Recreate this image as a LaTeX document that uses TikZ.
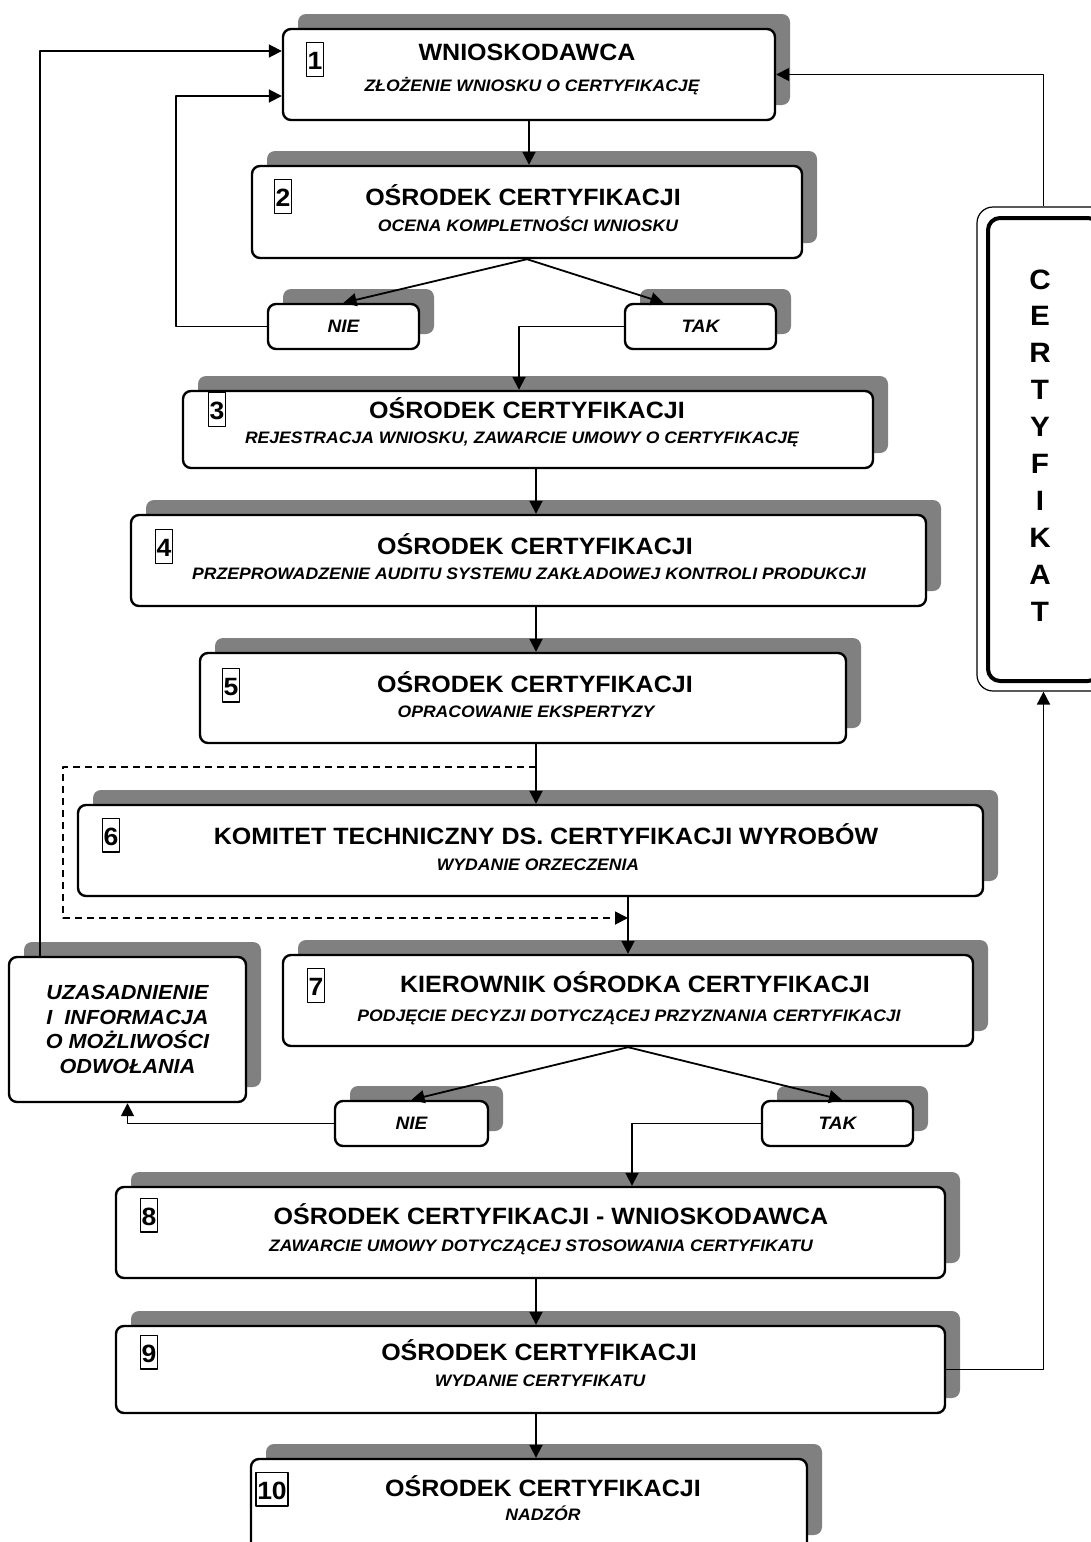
\documentclass[tikz,border=0pt]{standalone}
\usepackage{fontspec}
\setmainfont{Liberation Sans}[FakeStretch=1.06]
\usetikzlibrary{arrows.meta,shadows}
\begin{document}
\begin{tikzpicture}[x=0.5pt, y=-0.5pt, line join=round, >={Triangle[length=6.5pt,width=6.5pt]},
	box/.style={draw, line width=1.2pt, rounded corners=4pt, fill=white, inner sep=0pt, drop shadow={shadow xshift=7.5pt, shadow yshift=7.5pt, opacity=1, fill=black!50}},
	ttl/.style={font=\fontsize{11.8}{14}\selectfont\bfseries, inner sep=0pt, text height=8.45pt, text depth=0pt},
	sub/.style={font=\fontsize{8.3}{10}\selectfont\bfseries\itshape, inner sep=0pt, text height=5.95pt, text depth=0pt},
	num/.style={draw, line width=0.7pt, font=\fontsize{12.5}{14}\selectfont\bfseries, inner xsep=0.6pt, inner ysep=1.4pt, text height=12pt, text depth=2pt},
	ans/.style={box, minimum width=75.5pt, minimum height=22.5pt, font=\fontsize{9}{11}\selectfont\bfseries\itshape},
	conn/.style={line width=0.9pt}]
	\useasboundingbox (0,0) rectangle (1091,1542);
	\clip (0,0) rectangle (1091,1542);
	\node[box, minimum width=246pt, minimum height=45.5pt] (b1) at (529,74.5) {};
	\node[box, minimum width=275pt, minimum height=46pt] (b2) at (527,212) {};
	\node[ans] (nie1) at (343.5,326.5) {NIE};
	\node[ans] (tak1) at (700.5,326.5) {TAK};
	\node[box, minimum width=345pt, minimum height=38.5pt] (b3) at (528,429.5) {};
	\node[box, minimum width=397.5pt, minimum height=45.5pt] (b4) at (528.5,560.5) {};
	\node[box, minimum width=323pt, minimum height=45pt] (b5) at (523,698) {};
	\node[box, minimum width=452.5pt, minimum height=45.5pt] (b6) at (530.5,850.5) {};
	\node[box, minimum width=345pt, minimum height=45.5pt] (b7) at (628,1000.5) {};
	\node[box, minimum width=118.5pt, minimum height=72.5pt, align=center, font=\fontsize{10.2}{12.25}\selectfont\bfseries\itshape] (uzas) at (127.5,1029.5) {UZASADNIENIE\\I\ \ INFORMACJA\\O MOŻLIWOŚCI\\ODWOŁANIA};
	\node[ans, minimum width=76.5pt] (nie2) at (411.5,1123.5) {NIE};
	\node[ans] (tak2) at (837.5,1123.5) {TAK};
	\node[box, minimum width=414.5pt, minimum height=45.5pt] (b8) at (530.5,1232.5) {};
	\node[box, minimum width=414.5pt, minimum height=43.5pt] (b9) at (530.5,1369.5) {};
	\node[box, minimum width=278pt, minimum height=45.5pt] (b10) at (529,1504.5) {};
	\node[draw, line width=0.6pt, rounded corners=8pt, minimum width=66.5pt, minimum height=242pt] (cert) at (1043.5,449) {};
	\node[draw, line width=2pt, rounded corners=6pt, minimum width=56pt, minimum height=231.5pt] (certin) at (1044,449.5) {};
	\foreach \l [count=\i from 0] in {C,E,R,T,Y,F,I,K,A,T}
		\node[font=\fontsize{14}{16}\selectfont\bfseries, inner sep=0pt, text height=10pt, text depth=0pt] (l\i) at (1040,{279+36.9*\i}) {\l};
	\node[num] (nr1) at (315,59.5) {1};
	\node[num] (nr2) at (283,196.5) {2};
	\node[num] (nr3) at (217,409.5) {3};
	\node[num] (nr4) at (164,546.5) {4};
	\node[num] (nr5) at (231,685) {5};
	\node[num] (nr6) at (111,835) {6};
	\node[num] (nr7) at (316,985.5) {7};
	\node[num] (nr8) at (149,1215) {8};
	\node[num] (nr9) at (149,1352) {9};
	\node[num] (nr10) at (272,1489) {10};
	\node[ttl] (tit1) at (527,52) {WNIOSKODAWCA};
	\node[sub] (sub1) at (532,86) {ZŁOŻENIE WNIOSKU O CERTYFIKACJĘ};
	\node[ttl] (tit2) at (523,197) {OŚRODEK CERTYFIKACJI};
	\node[sub] (sub2) at (528,225.5) {OCENA KOMPLETNOŚCI WNIOSKU};
	\node[ttl] (tit3) at (527,410) {OŚRODEK CERTYFIKACJI};
	\node[sub] (sub3) at (522,438) {REJESTRACJA WNIOSKU, ZAWARCIE UMOWY O CERTYFIKACJĘ};
	\node[ttl] (tit4) at (535,546.5) {OŚRODEK CERTYFIKACJI};
	\node[sub] (sub4) at (529,574) {PRZEPROWADZENIE AUDITU SYSTEMU ZAKŁADOWEJ KONTROLI PRODUKCJI};
	\node[ttl] (tit5) at (535,684) {OŚRODEK CERTYFIKACJI};
	\node[sub] (sub5) at (526,712) {OPRACOWANIE EKSPERTYZY};
	\node[ttl] (tit6) at (546,836) {KOMITET TECHNICZNY DS. CERTYFIKACJI WYROBÓW};
	\node[sub] (sub6) at (538,865) {WYDANIE ORZECZENIA};
	\node[ttl] (tit7) at (635,984) {KIEROWNIK OŚRODKA CERTYFIKACJI};
	\node[sub] (sub7) at (629,1016) {PODJĘCIE DECYZJI DOTYCZĄCEJ PRZYZNANIA CERTYFIKACJI};
	\node[ttl] (tit8) at (551,1216) {OŚRODEK CERTYFIKACJI - WNIOSKODAWCA};
	\node[sub] (sub8) at (541,1245.5) {ZAWARCIE UMOWY DOTYCZĄCEJ STOSOWANIA CERTYFIKATU};
	\node[ttl] (tit9) at (539,1352) {OŚRODEK CERTYFIKACJI};
	\node[sub] (sub9) at (540,1380.5) {WYDANIE CERTYFIKATU};
	\node[ttl] (tit10) at (543,1488) {OŚRODEK CERTYFIKACJI};
	\node[sub] (sub10) at (543,1515) {NADZÓR};
	\coordinate (ax) at (536,0);
	\coordinate (dstart) at (536,767);
	\draw[conn,->] (b1.south) -- (b1.south |- b2.north);
	\draw[conn,->] (b2.south) -- (nie1.north);
	\draw[conn,->] (b2.south) -- ([xshift=-18.5pt]tak1.north);
	\draw[conn,->] (nie1.west) -- ++(-91,0) |- ([yshift=-10.75pt]b1.west);
	\draw[conn,->] (tak1.west) -| ([xshift=-4.5pt]b3.north);
	\draw[conn,->] (b3.south -| ax) -- (b4.north -| ax);
	\draw[conn,->] (b4.south -| ax) -- (b5.north -| ax);
	\draw[conn,->] (b5.south -| ax) -- (b6.north -| ax);
	\draw[conn,dash pattern=on 3.5pt off 2.5pt,->] (dstart) -| (63,918) -- (b7.north |- 0,918);
	\draw[conn,->] (b6.south -| b7.north) -- (b7.north);
	\draw[conn,->] (b7.south) -- (nie2.north);
	\draw[conn,->] (b7.south) -- ([xshift=2.25pt]tak2.north);
	\draw[conn,->] (nie2.west) -| (uzas.south);
	\draw[conn,->] ([xshift=-43.75pt]uzas.north) |- ([yshift=11.75pt]b1.west);
	\draw[conn,->] (tak2.west) -| ([xshift=50.75pt]b8.north);
	\draw[conn,->] (b8.south -| ax) -- (b9.north -| ax);
	\draw[conn,->] (b9.south -| ax) -- (b10.north -| ax);
	\draw[conn,->] (b9.east) -| (cert.south);
	\draw[conn,->] (cert.north) |- (b1.east);
\end{tikzpicture}
\end{document}
